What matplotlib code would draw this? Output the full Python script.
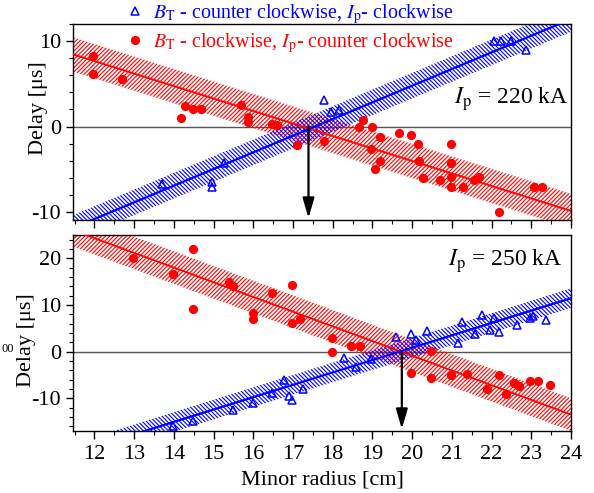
import numpy as np
import matplotlib
matplotlib.use("Agg")
import matplotlib.pyplot as plt
from matplotlib.ticker import MultipleLocator

plt.rcParams['font.family'] = ['Liberation Serif', 'DejaVu Serif']
plt.rcParams['mathtext.fontset'] = 'stix'
plt.rcParams['axes.unicode_minus'] = False
plt.rcParams['hatch.linewidth'] = 0.8

# ---------------- data: I_p = 220 kA ----------------
top_red_x = [11.97, 11.97, 12.69, 14.18, 14.28, 14.49, 14.68, 15.69, 15.87, 15.87, 16.48, 16.6,
             17.09, 17.78, 18.65, 18.75, 19.0, 19.18, 18.97, 19.18, 19.07, 19.68, 19.97, 20.14,
             20.98, 20.17, 20.98, 20.28, 20.69, 20.98, 20.98, 21.27, 21.57, 21.69, 22.18, 23.07, 23.28]
top_red_y = [8.24, 6.2, 5.6, 0.97, 2.46, 2.0, 2.0, 2.5, 1.13, 0.54, 0.35, 0.15,
             -2.2, -1.65, 0.0, 0.78, 0.0, -1.25, -2.68, -4.0, -5.0, -0.75, -1.0, -2.07,
             -2.07, -4.05, -4.27, -6.0, -6.25, -5.85, -7.12, -7.1, -6.3, -5.9, -10.0, -7.1, -7.1]
top_blue_x = [13.69, 14.97, 14.97, 15.26, 17.78, 17.96, 18.15, 22.07, 22.24, 22.49, 22.86]
top_blue_y = [-6.7, -6.55, -7.1, -4.3, 3.1, 1.75, 1.95, 10.0, 10.0, 10.0, 9.0]
# fitted lines: (slope, zero crossing, band half width)
top_red_fit = (-1.462, 17.24, 2.0)
top_blue_fit = (1.95, 17.55, 1.5)
top_cross = 17.39

# ---------------- data: I_p = 250 kA ----------------
bot_red_x = [12.98, 13.98, 14.47, 14.47, 15.39, 15.49, 15.98, 15.98, 16.48, 16.98, 16.98, 17.18,
             17.97, 17.97, 18.47, 18.68, 19.97, 20.48, 20.48, 20.98, 21.38, 21.88, 22.18, 22.37,
             22.57, 22.68, 22.98, 23.18, 23.48]
bot_red_y = [20.0, 16.6, 22.1, 9.07, 14.9, 14.1, 8.35, 7.05, 12.55, 14.3, 6.2, 7.05,
             2.95, -0.05, 1.22, 1.22, -4.58, -5.6, 0.1, -5.08, -4.85, -7.9, -4.95, -9.08,
             -6.62, -7.4, -6.25, -6.25, -7.15]
bot_blue_x = [13.98, 14.49, 15.49, 15.99, 16.48, 16.78, 16.98, 16.89, 17.25, 18.28, 18.59, 18.97,
              19.59, 19.97, 20.1, 20.37, 21.15, 21.26, 21.59, 21.77, 21.95, 22.07, 22.18, 22.65,
              22.97, 23.05, 23.37]
bot_blue_y = [-15.85, -14.75, -12.5, -10.9, -8.8, -6.15, -10.3, -9.5, -7.9, -1.45, -3.25, -1.5,
              3.05, 3.75, 2.6, 4.33, 1.93, 6.4, 3.75, 7.85, 4.7, 7.2, 4.25, 5.75,
              7.15, 7.55, 6.75]
bot_red_fit = (-3.15, 19.72, 3.5)
bot_blue_fit = (2.65, 19.68, 2.1)
bot_cross = 19.74

xlim = (11.46, 24.0)
xticks = list(range(12, 25))
label_blue = r"$B_{\mathrm{T}}$ - counter clockwise, $I_{\mathrm{p}}$- clockwise"
label_red = r"$B_{\mathrm{T}}$ - clockwise, $I_{\mathrm{p}}$- counter clockwise"

RED = '#ff0000'
BLUE = '#0000ff'

W, H = 594, 493
fig = plt.figure(figsize=(W / 100, H / 100), dpi=100)
ax_top = fig.add_axes([73 / W, 1 - 220 / H, 498 / W, 196 / H])
ax_bot = fig.add_axes([73 / W, 1 - 431 / H, 498 / W, 196 / H])


def band(ax, fit, color, hatch, lw):
    slope, x0, hw = fit
    xx = np.linspace(xlim[0], xlim[1], 200)
    yy = slope * (xx - x0)
    ax.fill_between(xx, yy - hw, yy + hw, facecolor='none', edgecolor=color,
                    hatch=hatch, linewidth=0, zorder=2)
    ax.plot(xx, yy, color=color, lw=lw, zorder=3)


def panel(ax, rx, ry, bx, by, rfit, bfit, cross, ylim, yticks, text, text_xy, ylabel_xy):
    ax.axhline(0, color='#555555', lw=1.0, zorder=1)
    band(ax, rfit, RED, '////////', 1.3)
    band(ax, bfit, BLUE, '\\\\\\\\\\\\\\\\', 1.6)
    hb, = ax.plot(bx, by, '^', ls='none', mfc='none', mec=BLUE, mew=1.1, ms=6.0, zorder=4)
    hr, = ax.plot(rx, ry, 'o', ls='none', mfc=RED, mec=RED, ms=5.6, zorder=4)
    ax.annotate('', xy=(cross, ylim[0] + 0.01 * (ylim[1] - ylim[0])), xytext=(cross, 0),
                arrowprops=dict(arrowstyle='-|>,head_length=1.2,head_width=0.35',
                                mutation_scale=10, lw=1.6, color='k',
                                shrinkA=0, shrinkB=0), zorder=5)
    ax.set_xlim(*xlim)
    ax.set_ylim(*ylim)
    ax.set_xticks(xticks)
    ax.xaxis.set_minor_locator(MultipleLocator(0.5))
    ax.set_yticks(yticks)
    ax.yaxis.set_minor_locator(MultipleLocator(2))
    ax.tick_params(which='major', length=5, width=1, labelsize=16)
    ax.tick_params(which='minor', length=3, width=0.8)
    ax.tick_params(axis='x', which='major', length=6, pad=4)
    ax.set_ylabel('Delay [μs]', fontsize=16)
    ax.yaxis.set_label_coords(*ylabel_xy)
    ax.text(text_xy[0], text_xy[1], text, fontsize=17, ha='right', va='baseline', zorder=6)
    for s in ax.spines.values():
        s.set_linewidth(1.0)
    return hb, hr


hb, hr = panel(ax_top, top_red_x, top_red_y, top_blue_x, top_blue_y, top_red_fit, top_blue_fit,
               top_cross, (-10.94, 12.0), [-10, 0, 10], r"$I_{\mathrm{p}}$ = 220 kA", (23.93, 2.7),
               (-0.05, 0.569))
ax_top.tick_params(axis='x', labelbottom=False)

panel(ax_bot, bot_red_x, bot_red_y, bot_blue_x, bot_blue_y, bot_red_fit, bot_blue_fit,
      bot_cross, (-17.0, 25.0), [-10, 0, 10, 20], r"$I_{\mathrm{p}}$ = 250 kA", (23.8, 18.5),
      (-0.074, 0.464))
ax_bot.set_xlabel('Minor radius [cm]', fontsize=16, labelpad=5)

fig.legend(handles=[hb, hr], labels=[label_blue, label_red], loc='upper left',
           bbox_to_anchor=(125 / W, 1 - 2 / H), bbox_transform=fig.transFigure,
           frameon=False, borderpad=0, borderaxespad=0, numpoints=1, handlelength=1.0,
           handletextpad=0.4, labelspacing=0.25, fontsize=14.4, labelcolor=[BLUE, RED])

fig.text(1 / W, 1 - 352 / H, '00', fontsize=9, ha='left', va='baseline')

fig.savefig('out.png', dpi=100)
